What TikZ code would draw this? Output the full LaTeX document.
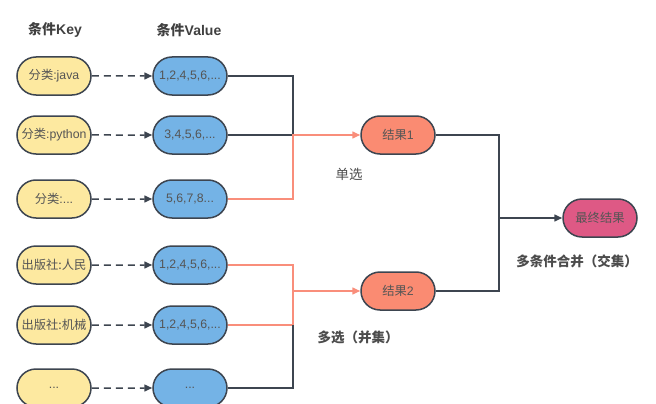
\documentclass[tikz,border=0pt]{standalone}
\usepackage{fontspec}
\setmainfont{Liberation Sans}
\newfontfamily\cjk{Noto Sans CJK SC}
\usetikzlibrary{shapes.misc,arrows.meta}
\definecolor{keyfill}{HTML}{FDE9A0}
\definecolor{valfill}{HTML}{74B3E6}
\definecolor{resfill}{HTML}{FA8B72}
\definecolor{endfill}{HTML}{DE5985}
\definecolor{edge}{HTML}{3D4550}
\definecolor{hit}{HTML}{F98E7B}
\definecolor{txt}{HTML}{555555}
\begin{document}
\begin{tikzpicture}[x=1pt,y=-1pt,
    pill/.style = {rounded rectangle, draw=edge, line width=1.5pt,
                   minimum width=76pt, minimum height=38pt, inner sep=1pt,
                   text=txt, font=\fontsize{12.3}{14}\selectfont},
    keybox/.style = {pill, fill=keyfill},
    valbox/.style = {pill, fill=valfill},
    resbox/.style = {pill, fill=resfill},
    endbox/.style = {pill, fill=endfill},
    title/.style = {text=black!75, font=\fontsize{14}{16}\selectfont\bfseries},
    note/.style = {text=black!70, font=\fontsize{13.5}{15}\selectfont\cjk},
    dasharrow/.style = {draw=edge, line width=1.5pt, dash pattern=on 7pt off 5pt,
                        -{Triangle[length=8pt,width=7pt]}},
    link/.style = {draw=edge, line width=1.5pt},
    hitlink/.style = {draw=hit, line width=1.5pt}]
    \useasboundingbox (0,0) rectangle (656,404);

    \node[title] (tk) at (55,30) {{\cjk 条件}Key};
    \node[title] (tv) at (189,30) {{\cjk 条件}Value};

    % keys and values
    \node[keybox] (k1) at (54,76)  {{\cjk 分类}:java};
    \node[keybox] (k2) at (54,135) {{\cjk 分类}:python};
    \node[keybox] (k3) at (54,199) {{\cjk 分类}:...};
    \node[keybox] (k4) at (54,265) {\cjk 出版社:人民};
    \node[keybox] (k5) at (54,325) {\cjk 出版社:机械};
    \node[keybox] (k6) at (54,388) {...};

    \node[valbox] (v1) at (190,76)  {1,2,4,5,6,...};
    \node[valbox] (v2) at (190,135) {3,4,5,6,...};
    \node[valbox] (v3) at (190,199) {5,6,7,8...};
    \node[valbox] (v4) at (190,265) {1,2,4,5,6,...};
    \node[valbox] (v5) at (190,325) {1,2,4,5,6,...};
    \node[valbox] (v6) at (190,388) {...};

    \foreach \i in {1,...,6}
        \draw[dasharrow] (k\i) -- (v\i);

    % results
    \node[resbox] (r1) at (398,135) {{\cjk 结果}1};
    \node[resbox] (r2) at (398,291) {{\cjk 结果}2};
    \node[endbox] (fin) at (600,218) {\cjk 最终结果};

    \coordinate (j1) at (293,135);
    \coordinate (j2) at (293,291);
    \coordinate (j3) at (293,325);
    \coordinate (j4) at (499,218);

    \draw[link] (v1.east) -| (j1);
    \draw[link] (v2.east) -- (j1);
    \draw[hitlink,-{Triangle[length=8pt,width=7pt]}] (v3.east) -| (j1) -- (r1);

    \draw[hitlink] (v4.east) -| (j2);
    \draw[hitlink] (v5.east) -| (j2);
    \draw[link] (v6.east) -| (j3);
    \draw[hitlink,-{Triangle[length=8pt,width=7pt]}] (j2) -- (r2);

    \draw[link] (r1.east) -| (j4);
    \draw[link] (r2.east) -| (j4);
    \draw[link,-{Triangle[length=8pt,width=7pt]}] (j4) -- (fin);

    % labels
    \node[note] (n1) at (349,174) {单选};
    \node[note,font=\fontsize{13.5}{15}\selectfont\cjk\bfseries] (n2) at (358,337) {多选（并集）};
    \node[note,font=\fontsize{13.5}{15}\selectfont\cjk\bfseries] (n3) at (577,261) {多条件合并（交集）};
\end{tikzpicture}
\end{document}
